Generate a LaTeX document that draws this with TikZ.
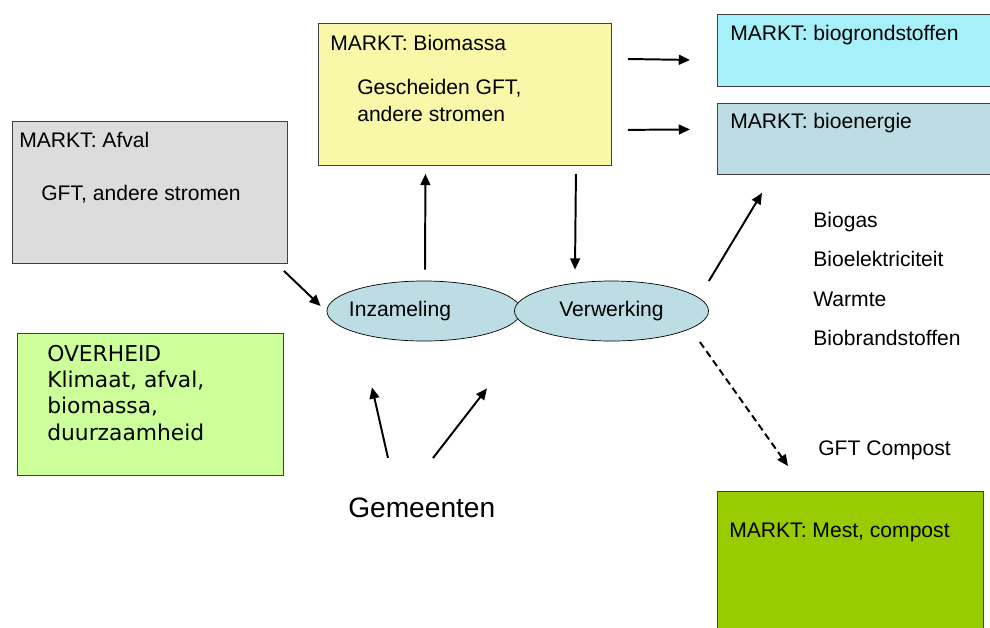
\documentclass[tikz,border=0pt]{standalone}
\usepackage{fontspec}
\setmainfont{Liberation Sans}
\newfontfamily\verdana{DejaVu Sans}
\usepackage{tikz}
\usetikzlibrary{arrows.meta,positioning,shapes.geometric}

\definecolor{afvalgrijs}{HTML}{DCDCDC}
\definecolor{biogeel}{HTML}{F8F8A8}
\definecolor{grondcyaan}{HTML}{A6F0FA}
\definecolor{energieblauw}{HTML}{BBDDE3}
\definecolor{overheidgroen}{HTML}{CCFF99}
\definecolor{mestgroen}{HTML}{99CC00}

\begin{document}
\begin{tikzpicture}[x=0.025cm, y=-0.025cm, font=\fontsize{15}{18.5}\selectfont]
            \tikzset{
                markt/.style={draw=black!75, line width=0.6pt, anchor=north west, inner sep=0pt},
                tekst/.style={anchor=base west, inner sep=0pt, align=left},
                proces/.style={ellipse, draw, line width=0.5pt, fill=energieblauw,
                        minimum width=4.85cm, minimum height=1.5cm, inner sep=0pt},
                pijl/.style={-{Triangle[length=8pt,width=7pt]}, line width=1.4pt}
            }
            \useasboundingbox (0,0) rectangle (990,627);

            % ---- MARKTEN ----
            \node[markt, fill=afvalgrijs, minimum width=6.875cm, minimum height=3.55cm] (afval) at (12,121) {};
            \node[markt, fill=biogeel, minimum width=7.325cm, minimum height=3.55cm] (biomassa) at (318,23) {};
            \node[markt, fill=grondcyaan, minimum width=7.5cm, minimum height=1.8cm] (grond) at (717,14) {};
            \node[markt, fill=energieblauw, minimum width=7.5cm, minimum height=1.775cm] (energie) at (717,103) {};
            \node[markt, fill=overheidgroen, minimum width=6.65cm, minimum height=3.55cm] (overheid) at (17,333) {};
            \node[markt, fill=mestgroen, minimum width=6.65cm, minimum height=4cm] (mest) at (717,491) {};

            % multi-line text: base is the last line
            \node[tekst] (afvaltitel) at (19,147) {MARKT: Afval};
            \node[tekst] (afvalinhoud) at (41,200) {GFT, andere stromen};
            \node[tekst] (biotitel) at (330,50) {MARKT: Biomassa};
            \node[tekst] (bioinhoud) at (357,121) {Gescheiden GFT,\\andere stromen};
            \node[tekst] (grondtitel) at (730,40) {MARKT: biogrondstoffen};
            \node[tekst] (energietitel) at (730,128) {MARKT: bioenergie};
            \node[tekst, font=\verdana\fontsize{15.5}{18.7}\selectfont] (overheidtekst) at (47,440)
                {OVERHEID\\Klimaat, afval,\\biomassa,\\duurzaamheid};
            \node[tekst] (mesttitel) at (729,537) {MARKT: Mest, compost};

            % ---- PROCESSEN ----
            \node[proces, label={[xshift=-0.6cm]center:Inzameling}] (inz) at (424,311) {};
            \node[proces, label={center:Verwerking}] (verw) at (611.5,311) {};

            % ---- PRODUCTEN ----
            \foreach \t/\y/\n in {Biogas/227/1, Bioelektriciteit/266/2, Warmte/306/3, Biobrandstoffen/345/4} {
                    \node[tekst] (product\n) at (813,\y) {\t};
                }
            \node[tekst] (compost) at (818,455) {GFT Compost};
            \node[tekst, font=\fontsize{20}{24}\selectfont] (gem) at (348,517) {Gemeenten};

            % ---- PIJLEN ----
            \draw[pijl] ([shift={(-4,7)}]afval.south east) -- ([shift={(-6,-5)}]inz.west);
            \draw[pijl] ([shift={(1,-11)}]inz.north) -- ([shift={(-39.5,8)}]biomassa.south);
            \draw[pijl] ([shift={(-36,8)}]biomassa.south east) -- ([shift={(-36.5,-11)}]verw.north);
            \draw[pijl] ([shift={(16,36)}]biomassa.north east) -- ([shift={(-27,9.5)}]grond.west);
            \draw[pijl] ([shift={(16,-36)}]biomassa.south east) -- ([shift={(-27,-9.5)}]energie.west);
            \draw[pijl] ([shift={(0,-30)}]verw.east) -- ([shift={(45,18)}]energie.south west);
            \draw[pijl, dash pattern=on 5pt off 3pt] ([shift={(-9,31)}]verw.east) -- ([shift={(71,-25)}]mest.north west);
            \draw[pijl] ([shift={(40,-59)}]gem.base west) -- ([shift={(-52,46)}]inz.south);
            \draw[pijl] ([shift={(85,-59)}]gem.base west) -- ([shift={(63,47)}]inz.south);

        \end{tikzpicture}
\end{document}
